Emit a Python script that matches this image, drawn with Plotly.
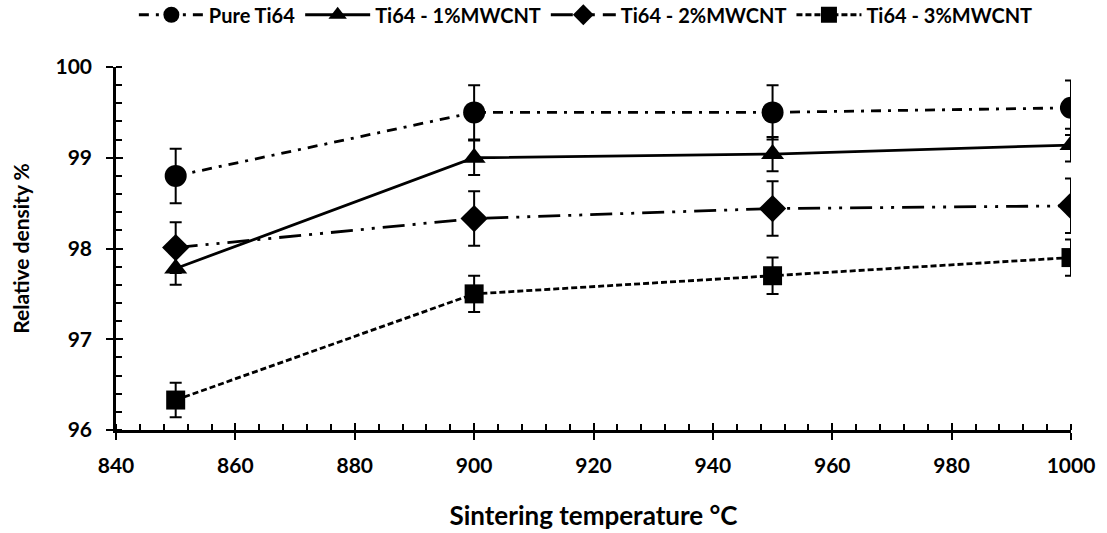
import plotly.graph_objects as go

temps = [850, 900, 950, 1000]
pure = [98.80, 99.50, 99.50, 99.55]
pure_err = [0.30, 0.30, 0.30, 0.30]
cnt1 = [97.78, 99.00, 99.04, 99.14]
cnt1_err = [0.18, 0.19, 0.19, 0.18]
cnt2 = [98.01, 98.33, 98.44, 98.47]
cnt2_err = [0.28, 0.30, 0.30, 0.30]
cnt3 = [96.33, 97.50, 97.70, 97.90]
cnt3_err = [0.19, 0.20, 0.20, 0.20]

names = ["Pure Ti64", "Ti64 - 1%MWCNT", "Ti64 - 2%MWCNT", "Ti64 - 3%MWCNT"]
series = [pure, cnt1, cnt2, cnt3]
errs = [pure_err, cnt1_err, cnt2_err, cnt3_err]
symbols = ["circle", "triangle-up", "diamond", "square"]
sizes = [22, 20, 21, 19]
dashes = ["10px,7px,3px,7px", "solid", "22px,8px,3px,8px,3px,8px", "6px,3px"]

FONT = "Lato"
fig = go.Figure()
for n, y, e, s, sz, d in zip(names, series, errs, symbols, sizes, dashes):
    fig.add_trace(go.Scatter(
        x=temps, y=y, name=n, mode="lines+markers",
        line=dict(color="black", width=2.8, dash=d),
        marker=dict(symbol=s, size=sz, color="black"),
        error_y=dict(type="data", array=e, visible=True, color="black", thickness=2, width=6),
    ))

axis_common = dict(
    showline=True, linecolor="black", linewidth=2.5, ticks="outside", tickcolor="black",
    tickwidth=2, ticklen=7, showgrid=False, zeroline=False,
    tickfont=dict(family=FONT, size=21, color="black", weight="bold"),
)
fig.update_xaxes(range=[840, 1000], dtick=20, tick0=840, **axis_common, ticklabelstandoff=8,
                 title=dict(text="Sintering temperature °C",
                            font=dict(family=FONT, size=26, color="black", weight="bold"), standoff=31))
fig.update_yaxes(range=[96, 100], dtick=1, tick0=96, **axis_common, ticklabelstandoff=10,
                 title=dict(text="Relative density %",
                            font=dict(family=FONT, size=21, color="black", weight="bold"), standoff=21))
fig.layout.xaxis.minor = dict(dtick=4, tick0=840, ticks="inside", ticklen=6, tickcolor="black", tickwidth=2)
fig.layout.yaxis.minor = dict(dtick=0.2, tick0=96, ticks="inside", ticklen=6, tickcolor="black", tickwidth=2)

# overlay axes draw the inner half of the crossing major ticks
fig.update_layout(
    xaxis2=dict(overlaying="x", anchor="y", side="bottom", range=[840, 1000], dtick=20, tick0=840,
                tickmode="linear", ticks="inside",
                ticklen=7, tickwidth=2, tickcolor="black", showticklabels=False,
                showgrid=False, zeroline=False, showline=False),
    yaxis2=dict(overlaying="y", anchor="x", side="left", range=[96, 100], dtick=1, tick0=96,
                tickmode="linear", ticks="inside",
                ticklen=7, tickwidth=2, tickcolor="black", showticklabels=False,
                showgrid=False, zeroline=False, showline=False),
)
fig.add_trace(go.Scatter(x=[900], y=[98], xaxis="x2", yaxis="y2", mode="markers",
                         marker=dict(opacity=0), showlegend=False, hoverinfo="skip"))

fig.update_layout(
    width=1107, height=533, plot_bgcolor="white", paper_bgcolor="white",
    margin=dict(l=116, r=36, t=67, b=103, autoexpand=False),
    legend=dict(orientation="h", x=0.492, xanchor="center", y=1.144, yanchor="middle",
                itemwidth=65,
                font=dict(family=FONT, size=20, color="black", weight="bold")),
    showlegend=True,
)
fig.write_html("out.html")
